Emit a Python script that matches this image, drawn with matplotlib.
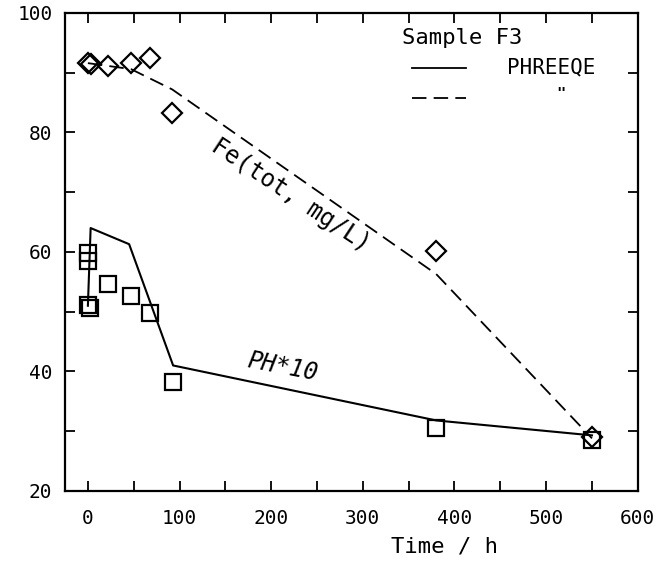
import numpy as np
import matplotlib
matplotlib.use("Agg")
import matplotlib.pyplot as plt
from matplotlib.ticker import MultipleLocator

# measured pH*10 (squares) and Fe(tot, mg/L) (diamonds)
ph_time = [0, 0, 0, 2, 22, 47, 68, 93, 380, 550]
ph_val = [59.8, 58.5, 51.2, 50.6, 54.6, 52.6, 49.8, 38.2, 30.5, 28.6]
fe_time = [0, 3, 22, 47, 68, 92, 380, 550]
fe_val = [91.6, 91.4, 91.2, 91.6, 92.4, 83.2, 60.2, 29.0]

# PHREEQE model curves
ph_model_time = [0, 3, 45, 93, 380, 550]
ph_model_val = [51.0, 64.0, 61.3, 41.0, 31.8, 29.3]
fe_model_time = [0, 47, 92, 380, 550]
fe_model_val = [91.6, 90.6, 87.2, 56.3, 28.8]

plt.rcParams['font.family'] = 'DejaVu Sans Mono'

fig = plt.figure(figsize=(6.63, 5.63), dpi=100)
ax = fig.add_axes([0.098, 0.128, 0.864, 0.849])

ax.plot(ph_model_time, ph_model_val, '-', color='black', lw=1.5)
ax.plot(fe_model_time, fe_model_val, color='black', lw=1.3, dashes=(8, 4))
ax.plot(ph_time, ph_val, 's', ms=11, mfc='none', mec='black', mew=1.6)
ax.plot(fe_time, fe_val, 'D', ms=10, mfc='none', mec='black', mew=1.6)

ax.set_xlim(-25, 600)
ax.set_ylim(20, 100)
ax.xaxis.set_major_locator(MultipleLocator(100))
ax.xaxis.set_minor_locator(MultipleLocator(50))
ax.yaxis.set_major_locator(MultipleLocator(20))
ax.yaxis.set_minor_locator(MultipleLocator(10))
ax.tick_params(which='both', direction='in', top=True, right=True,
               length=7, width=1.3, labelsize=14)
ax.tick_params(axis='x', pad=13)
ax.tick_params(axis='y', pad=9)
for s in ax.spines.values():
    s.set_linewidth(1.6)

ax.text(445 / 663, 1 - 547 / 563, 'Time / h', transform=fig.transFigure,
        ha='center', va='center', fontsize=16)

# legend drawn by hand
ax.text(0.588, 0.947, 'Sample F3', transform=ax.transAxes, ha='left', va='center', fontsize=16)
ax.plot([0.605, 0.70], [0.885, 0.885], '-', color='black', lw=1.3, transform=ax.transAxes)
ax.plot([0.605, 0.70], [0.822, 0.822], color='black', lw=1.3, dashes=(8, 4), transform=ax.transAxes)
ax.text(0.772, 0.885, 'PHREEQE', transform=ax.transAxes, ha='left', va='center', fontsize=15)
ax.text(0.865, 0.83, '"', transform=ax.transAxes, ha='center', va='center',
        fontsize=11, fontweight='bold')

ax.text(221, 69.5, 'Fe(tot, mg/L)', rotation=-33.5, ha='center', va='center',
        fontsize=17, rotation_mode='anchor')
ax.text(213, 40.8, 'PH*10', rotation=-11, ha='center', va='center',
        fontsize=17, style='italic', rotation_mode='anchor')

fig.savefig('out.png', dpi=100)
